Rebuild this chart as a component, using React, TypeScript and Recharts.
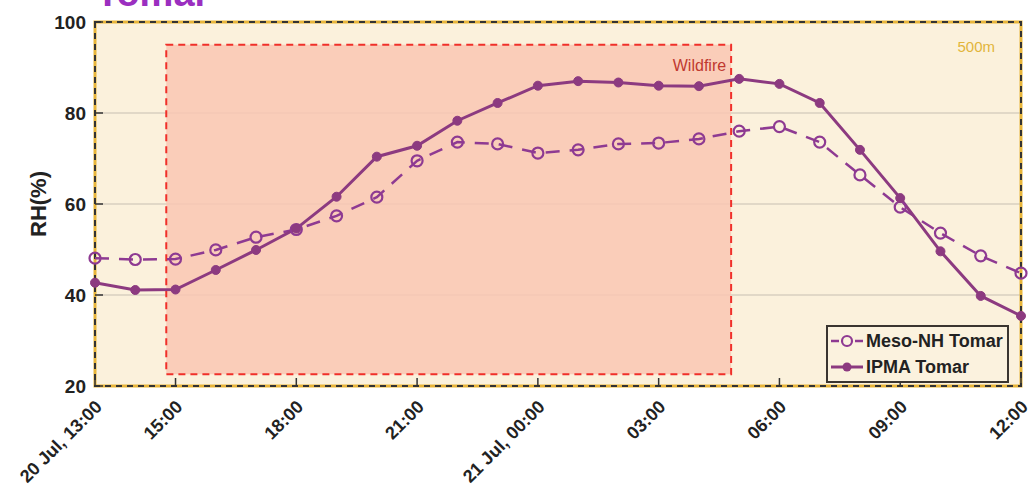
import React from "react";
import {
  LineChart,
  Line,
  XAxis,
  YAxis,
  CartesianGrid,
  ReferenceArea,
  Legend,
} from "recharts";

// hourly steps from 20 Jul 13:00 to 21 Jul 12:00
const times = [
  "20 Jul, 13:00", "14:00", "15:00", "16:00", "17:00", "18:00", "19:00", "20:00",
  "21:00", "22:00", "23:00", "21 Jul, 00:00", "01:00", "02:00", "03:00", "04:00",
  "05:00", "06:00", "07:00", "08:00", "09:00", "10:00", "11:00", "12:00",
];

const mesoNH = [
  48.1, 47.8, 47.9, 49.9, 52.7, 54.4, 57.4, 61.5, 69.5, 73.6, 73.2, 71.2,
  71.9, 73.2, 73.4, 74.3, 76.0, 77.0, 73.6, 66.4, 59.3, 53.6, 48.6, 44.8,
];

const ipma = [
  42.7, 41.1, 41.2, 45.5, 49.9, 54.6, 61.6, 70.4, 72.8, 78.3, 82.2, 86.0,
  87.0, 86.7, 86.0, 85.9, 87.5, 86.4, 82.2, 71.9, 61.3, 49.6, 39.8, 35.4,
];

const xTicks = [0, 2, 5, 8, 11, 14, 17, 20, 23];
const yTicks = [20, 40, 60, 80, 100];

// wildfire window, in hours after 20 Jul 13:00
const wildfireX = [1.77, 15.8];
const wildfireY = [22.6, 95];

const data = times.map((t, i) => ({ x: i, label: t, meso: mesoNH[i], ipma: ipma[i] }));

const FONT = "'Liberation Sans', Arial, sans-serif";
const PURPLE = "#8c3a80";
const VIOLET = "#8e3a92";

const BottomTick = (props: any) => {
  const { x, y, payload } = props;
  return (
    <g transform={`translate(${x},${y})`}>
      <line x1={0} x2={0} y1={0} y2={-8} stroke="#333" strokeWidth={1.5} />
      <text
        x={8}
        y={22}
        transform="rotate(-45 8 22)"
        textAnchor="end"
        fontFamily={FONT}
        fontWeight="bold"
        fontSize={18}
        fill="#222"
      >
        {times[payload.value]}
      </text>
    </g>
  );
};

const TopTick = (props: any) => {
  const { x, y } = props;
  return <line x1={x} x2={x} y1={y} y2={y + 8} stroke="#333" strokeWidth={1.5} />;
};

const LeftTick = (props: any) => {
  const { x, y, payload } = props;
  return (
    <g transform={`translate(${x},${y})`}>
      <line x1={0} x2={8} y1={0} y2={0} stroke="#333" strokeWidth={1.5} />
      <text
        x={-9}
        y={7}
        textAnchor="end"
        fontFamily={FONT}
        fontWeight="bold"
        fontSize={19}
        fill="#222"
      >
        {payload.value}
      </text>
    </g>
  );
};

const RightTick = (props: any) => {
  const { x, y } = props;
  return <line x1={x} x2={x - 8} y1={y} y2={y} stroke="#333" strokeWidth={1.5} />;
};

const WildfireLabel = (props: any) => {
  const vb = props.viewBox;
  return (
    <text
      x={vb.x + vb.width - 5}
      y={vb.y + 26}
      textAnchor="end"
      fontFamily={FONT}
      fontSize={16}
      fill="#c0392f"
    >
      Wildfire
    </text>
  );
};

const HeightLabel = (props: any) => {
  const vb = props.viewBox;
  return (
    <text
      x={vb.x + vb.width - 26}
      y={vb.y + 30}
      textAnchor="end"
      fontFamily={FONT}
      fontSize={15}
      fill="#e2b53b"
    >
      500m
    </text>
  );
};

const LegendBox = () => (
  <div
    style={{
      background: "#fbf2de",
      border: "2px solid #3a3530",
      padding: "1px 4px 1px 2px",
      fontFamily: FONT,
      fontWeight: "bold",
      fontSize: 18,
      color: "#222",
      lineHeight: "26px",
      whiteSpace: "nowrap",
    }}
  >
    <div style={{ display: "flex", alignItems: "center" }}>
      <svg width={34} height={14} style={{ marginRight: 2 }}>
        <line x1={1} x2={9} y1={7} y2={7} stroke={VIOLET} strokeWidth={2.5} />
        <circle cx={17} cy={7} r={5} fill="none" stroke={VIOLET} strokeWidth={2.2} />
        <line x1={25} x2={33} y1={7} y2={7} stroke={VIOLET} strokeWidth={2.5} />
      </svg>
      Meso-NH Tomar
    </div>
    <div style={{ display: "flex", alignItems: "center" }}>
      <svg width={34} height={14} style={{ marginRight: 2 }}>
        <line x1={1} x2={33} y1={7} y2={7} stroke={PURPLE} strokeWidth={3} />
        <circle cx={17} cy={7} r={4.5} fill={PURPLE} />
      </svg>
      IPMA Tomar
    </div>
  </div>
);

export default function App() {
  return (
    <div style={{ position: "relative", width: 1034, height: 494, background: "#fff" }}>
      <style>{"body{margin:0}"}</style>
      <svg
        width={300}
        height={12}
        style={{ position: "absolute", left: 0, top: 0, pointerEvents: "none" }}
      >
        <text x={96} y={6} fontFamily={FONT} fontWeight="bold" fontSize={38} fill="#9b2fc0">
          Tomar
        </text>
      </svg>
      <LineChart
        width={1034}
        height={494}
        data={data}
        margin={{ top: 22, right: 13, bottom: 8, left: 35 }}
      >
        <CartesianGrid
          vertical={false}
          fill="#fbf1dc"
          stroke="#d9cfc0"
          strokeWidth={1.5}
          yAxisId="left"
        />
        <XAxis
          dataKey="x"
          type="number"
          domain={[0, 23]}
          ticks={xTicks}
          interval={0}
          height={100}
          tickSize={0}
          tickMargin={0}
          axisLine={false}
          tickLine={false}
          tick={<BottomTick />}
        />
        <XAxis
          xAxisId="top"
          orientation="top"
          dataKey="x"
          type="number"
          domain={[0, 23]}
          ticks={xTicks}
          interval={0}
          height={0}
          tickSize={0}
          tickMargin={0}
          axisLine={false}
          tickLine={false}
          tick={<TopTick />}
        />
        <YAxis
          yAxisId="left"
          type="number"
          domain={[20, 100]}
          ticks={yTicks}
          interval={0}
          width={60}
          tickSize={0}
          tickMargin={0}
          axisLine={false}
          tickLine={false}
          tick={<LeftTick />}
          label={{
            value: "RH(%)",
            angle: -90,
            position: "insideLeft",
            offset: 3,
            style: { fontFamily: FONT, fontWeight: "bold", fontSize: 22, fill: "#222", textAnchor: "middle" },
          }}
        />
        <YAxis
          yAxisId="right"
          orientation="right"
          type="number"
          domain={[20, 100]}
          ticks={yTicks}
          interval={0}
          width={0}
          tickSize={0}
          tickMargin={0}
          axisLine={false}
          tickLine={false}
          tick={<RightTick />}
        />
        <ReferenceArea
          yAxisId="left"
          x1={wildfireX[0]}
          x2={wildfireX[1]}
          y1={wildfireY[0]}
          y2={wildfireY[1]}
          fill="#f9c7b3"
          fillOpacity={0.85}
          stroke="#f0302a"
          strokeWidth={2}
          strokeDasharray="7 5"
          label={<WildfireLabel />}
        />
        <Line
          yAxisId="left"
          dataKey="meso"
          stroke={VIOLET}
          strokeWidth={2.5}
          strokeDasharray="14 10"
          dot={{ r: 5.5, fill: "none", stroke: VIOLET, strokeWidth: 2.2, strokeDasharray: "" }}
          activeDot={false}
          isAnimationActive={false}
        />
        <Line
          yAxisId="left"
          dataKey="ipma"
          stroke={PURPLE}
          strokeWidth={3}
          dot={{ r: 4.5, fill: PURPLE, stroke: PURPLE, strokeWidth: 1 }}
          activeDot={false}
          isAnimationActive={false}
        />
        <ReferenceArea
          yAxisId="left"
          x1={0}
          x2={23}
          y1={20}
          y2={100}
          fill="none"
          stroke="#e8b53a"
          strokeWidth={3}
          label={<HeightLabel />}
        />
        <ReferenceArea
          yAxisId="left"
          x1={0}
          x2={23}
          y1={20}
          y2={100}
          fill="none"
          stroke="#333"
          strokeWidth={2}
          strokeDasharray="6 5"
        />
        <Legend
          layout="horizontal"
          verticalAlign="middle"
          align="center"
          content={<LegendBox />}
          wrapperStyle={{ left: 826, top: 325, width: "auto", height: "auto" }}
        />
      </LineChart>
    </div>
  );
}
